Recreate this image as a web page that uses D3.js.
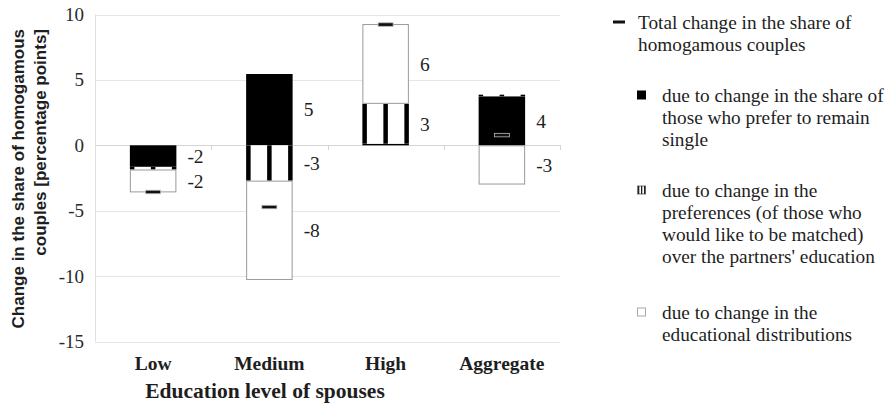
<!DOCTYPE html>
<html>
<head>
<meta charset="utf-8">
<script src="https://cdn.jsdelivr.net/npm/d3@7"></script>
<style>
  html, body { margin: 0; padding: 0; background: #fff; }
  svg { display: block; }
  .serif { font-family: "Liberation Serif", "Times New Roman", serif; }
  .sans { font-family: "Liberation Sans", Arial, sans-serif; }
</style>
</head>
<body>
<svg id="chart" width="891" height="404"></svg>
<script>
// Decomposition of the change in the share of homogamous couples (percentage points)
const categories = ["Low", "Medium", "High", "Aggregate"];
const singles = [-1.65, 5.45, 0.12, 3.75];          // share who prefer to remain single
const preferences = [-0.2, -2.7, 3.05, 0.12];       // preferences over partners' education
const distributions = [-1.75, -7.6, 6.1, -3.0];     // educational distributions
const totals = [-3.55, -4.7, 9.25, 0.8];            // total change
const yTicks = [10, 5, 0, -5, -10, -15];

const legendItems = [
  { key: "total", lines: ["Total change in the share of", "homogamous couples"] },
  { key: "singles", lines: ["due to change in the share of", "those who prefer to remain", "single"] },
  { key: "preferences", lines: ["due to change in the", "preferences (of those who", "would like to be matched)", "over the partners' education"] },
  { key: "distributions", lines: ["due to change in the", "educational distributions"] }
];

const svg = d3.select("#chart");
const ink = "#1e1e1e";
const fmt = v => String(Math.round(v)).replace("\u2212", "-");

const plot = { left: 95, right: 560, top: 14.5, bottom: 341.5 };

const x = d3.scaleBand().domain(categories)
  .range([plot.left, plot.right]).paddingInner(0.6).paddingOuter(0.3);
const y = d3.scaleLinear().domain([-15, 10]).range([plot.bottom, plot.top]);

// gridlines
svg.append("g").selectAll("line").data(yTicks).join("line")
  .attr("x1", plot.left).attr("x2", plot.right)
  .attr("y1", d => Math.round(y(d)) + 0.5).attr("y2", d => Math.round(y(d)) + 0.5)
  .attr("stroke", d => d === 0 ? "#d4d4d4" : "#e6e6e6").attr("stroke-width", 1);

// vertical axis line
svg.append("line")
  .attr("x1", plot.left + 0.5).attr("x2", plot.left + 0.5)
  .attr("y1", y(10)).attr("y2", y(-15))
  .attr("stroke", "#e0e0e0");

// category separators on the zero line
const sepX = categories.map((c, i) => plot.left + (i + 1) * (plot.right - plot.left) / categories.length);
svg.append("g").selectAll("line").data(sepX).join("line")
  .attr("x1", d => Math.round(d) + 0.5).attr("x2", d => Math.round(d) + 0.5)
  .attr("y1", Math.round(y(0))).attr("y2", Math.round(y(0)) + 5)
  .attr("stroke", "#d4d4d4");

// y tick labels
const yAxis = d3.axisLeft(y).tickValues(yTicks).tickSize(0).tickPadding(10)
  .tickFormat(d => String(d).replace("\u2212", "-"));
const ya = svg.append("g").attr("transform", `translate(${plot.left - 1},0)`).call(yAxis)
  .attr("font-family", null).attr("font-size", null);
ya.select(".domain").remove();
ya.selectAll("text").attr("class", "serif").style("font-size", "19px").attr("fill", "#2a2a2a");

// stacked segments (positives and negatives stacked separately)
const keys = ["singles", "preferences", "distributions"];
const rows = categories.map((c, i) => ({
  category: c, singles: singles[i], preferences: preferences[i], distributions: distributions[i]
}));
const series = d3.stack().keys(keys).offset(d3.stackOffsetDiverging)(rows);

const bw = x.bandwidth();
const gBars = svg.append("g");
const gLabels = svg.append("g");
series.forEach(s => {
  s.forEach(d => {
    const cx = x(d.data.category);
    const y0 = y(Math.max(d[0], d[1]));
    const y1 = y(Math.min(d[0], d[1]));
    const h = Math.max(y1 - y0, 0.8);
    if (s.key === "singles") {
      gBars.append("rect").attr("x", cx).attr("y", y0).attr("width", bw).attr("height", h)
        .attr("fill", "#000");
    } else if (s.key === "preferences") {
      gBars.append("rect").attr("x", cx).attr("y", y0).attr("width", bw).attr("height", h)
        .attr("fill", "#fff");
      const sw = 4.5;
      [0, (bw - sw) / 2, bw - sw].forEach(off => {
        gBars.append("rect").attr("x", cx + off).attr("y", y0).attr("width", sw).attr("height", h)
          .attr("fill", "#000");
      });
    } else {
      gBars.append("rect").attr("x", cx + 0.5).attr("y", y0 + 0.5).attr("width", bw - 1).attr("height", h - 1)
        .attr("fill", "#fff").attr("stroke", "#9a9a9a").attr("stroke-width", 1);
    }
    // value label
    const v = d.data[s.key];
    if (Math.abs(v) >= 0.5) {
      gLabels.append("text").attr("class", "serif")
        .attr("x", cx + bw + 11).attr("y", (y0 + y1) / 2).attr("dy", "0.35em")
        .style("font-size", "19.5px").attr("fill", ink)
        .text(fmt(v));
    }
  });
});

// total change markers
svg.append("g").selectAll("rect").data(categories).join("rect")
  .attr("x", d => x(d) + bw / 2 - 7.5).attr("y", (d, i) => y(totals[i]) - 1.5)
  .attr("width", 15).attr("height", 3.5)
  .attr("fill", "#111").attr("stroke", "#bbb").attr("stroke-width", 0.8);

// category labels
svg.append("g").selectAll("text").data(categories).join("text")
  .attr("class", "serif")
  .attr("x", d => x(d) + bw / 2).attr("y", 363).attr("dy", "0.35em")
  .attr("text-anchor", "middle").style("font-weight", "bold")
  .style("font-size", "19.5px").attr("fill", ink).text(d => d);

// axis titles
svg.append("text").attr("class", "serif").attr("x", 265).attr("y", 390).attr("dy", "0.35em")
  .attr("text-anchor", "middle").style("font-weight", "bold")
  .style("font-size", "21.5px").attr("fill", ink).text("Education level of spouses");

const yTitle = svg.append("text").attr("class", "sans")
  .attr("transform", "translate(0,29) rotate(-90)")
  .attr("text-anchor", "end").style("font-weight", "bold")
  .style("font-size", "17px").attr("fill", ink);
yTitle.append("tspan").attr("x", 0).attr("y", 18).attr("dy", "0.35em").text("Change in the share of homogamous");
yTitle.append("tspan").attr("x", 0).attr("y", 40).attr("dy", "0.35em").text("couples [percentage points]");

// legend
const legendTops = [22, 95, 190, 312];
const lineH = 22;
legendItems.forEach((item, i) => {
  const cy = legendTops[i];
  const tx = item.key === "total" ? 638 : 662;
  const g = svg.append("g");
  if (item.key === "total") {
    g.append("rect").attr("x", 613).attr("y", cy - 1.5).attr("width", 12).attr("height", 3).attr("fill", "#111");
  } else if (item.key === "singles") {
    g.append("rect").attr("x", 637).attr("y", cy - 4.5).attr("width", 9).attr("height", 9).attr("fill", "#000");
  } else if (item.key === "preferences") {
    g.append("rect").attr("x", 637.5).attr("y", cy - 4).attr("width", 8).attr("height", 8)
      .attr("fill", "#fff").attr("stroke", "#777");
    [638, 641, 644].forEach(px => g.append("rect").attr("x", px).attr("y", cy - 4).attr("width", 1.3).attr("height", 8).attr("fill", "#222"));
  } else {
    g.append("rect").attr("x", 637.5).attr("y", cy - 4).attr("width", 8).attr("height", 8)
      .attr("fill", "#fff").attr("stroke", "#aaa");
  }
  const t = g.append("text").attr("class", "serif").style("font-size", "19.3px").attr("fill", ink);
  item.lines.forEach((ln, j) => {
    t.append("tspan").attr("x", tx).attr("y", cy + j * lineH).attr("dy", "0.35em").text(ln);
  });
});
</script>
</body>
</html>
